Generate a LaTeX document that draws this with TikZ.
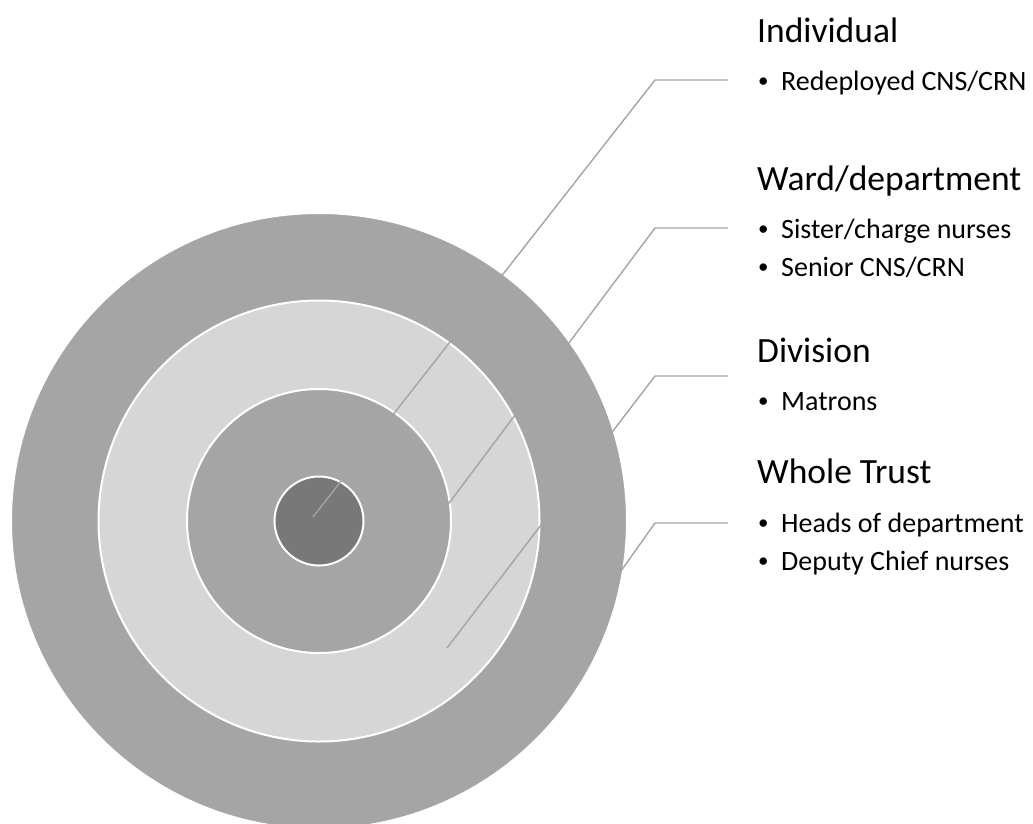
\documentclass[tikz,border=0pt]{standalone}
\usepackage{fontspec}
\usepackage{graphicx}
\setmainfont{Carlito}
\definecolor{ringdark}{HTML}{A5A5A5}
\definecolor{ringlight}{HTML}{D6D6D6}
\definecolor{core}{HTML}{787878}
\definecolor{leader}{HTML}{A4A4A4}
\tikzset{
  ring/.style={circle, draw=white, line width=2pt, inner sep=0pt, outer sep=0pt},
  leaderline/.style={draw=leader, line width=1.4pt},
  title/.style={anchor=base west, inner sep=0pt, font=\fontsize{35.5}{40}\selectfont},
  item/.style={anchor=base west, inner sep=0pt, font=\fontsize{28}{32}\selectfont},
}
\newcommand{\itm}[1]{\makebox[23pt][l]{\raisebox{2.2pt}{\scalebox{0.75}{•}}}#1}
\begin{document}
\begin{tikzpicture}[x=1pt,y=-1pt]
\useasboundingbox (0,0) rectangle (1033,823);
\clip (0,0) rectangle (1033,823);
% rings
\node[ring, fill=ringdark, minimum size=616pt] (outer) at (319,521) {};
\node[ring, fill=ringlight, minimum size=441pt] (light) at (319,521) {};
\node[ring, fill=ringdark, minimum size=264pt] (mid) at (319,521) {};
\node[ring, fill=core, minimum size=89pt] (inner) at (319,521) {};
% leader points
\coordinate (s1) at (313,517);
\coordinate (b1) at (655,80);
\coordinate (e1) at (728,80);
\coordinate (s2) at (393,578);
\coordinate (b2) at (655,228);
\coordinate (e2) at (728,228);
\coordinate (s3) at (447,648);
\coordinate (b3) at (655,376);
\coordinate (e3) at (728,376);
\coordinate (s4) at (533,695);
\coordinate (b4) at (655,523);
\coordinate (e4) at (728,523);
\draw[leaderline] (s1) -- (b1) -- (e1);
\draw[leaderline] (s2) -- (b2) -- (e2);
\draw[leaderline] (s3) -- (b3) -- (e3);
\draw[leaderline] (s4) -- (b4) -- (e4);
% texts
\node[title] (t1) at (757,42) {Individual};
\node[item] (i1a) at (758,90) {\itm{Redeployed CNS/CRN}};
\node[title] (t2) at (757,190) {Ward/department};
\node[item] (i2a) at (758,238) {\itm{Sister/charge nurses}};
\node[item] (i2b) at (758,276) {\itm{Senior CNS/CRN}};
\node[title] (t3) at (757,362) {Division};
\node[item] (i3a) at (758,410) {\itm{Matrons}};
\node[title] (t4) at (757,483) {Whole Trust};
\node[item] (i4a) at (758,532) {\itm{Heads of department}};
\node[item] (i4b) at (758,570) {\itm{Deputy Chief nurses}};
\end{tikzpicture}
\end{document}
